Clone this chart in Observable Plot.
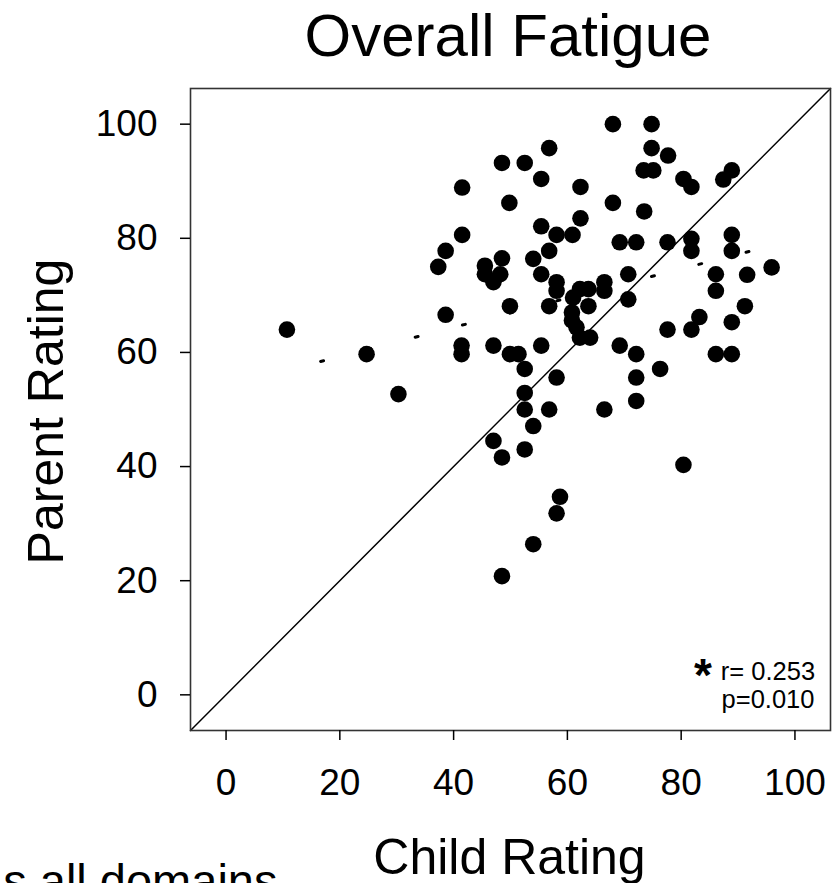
<!DOCTYPE html>
<html>
<head>
<meta charset="utf-8">
<script src="https://cdn.jsdelivr.net/npm/d3@7"></script>
<script src="https://cdn.jsdelivr.net/npm/@observablehq/plot@0.6"></script>
<style>
  body { margin: 0; background: #fff; }
  #chart svg { display: block; }
</style>
</head>
<body>
<div id="chart"></div>
<script>
// Child rating (x) and parent rating (y) for each participant
const childRating = [
  10.7, 24.7, 30.3, 37.3, 38.6, 38.6, 41.5, 41.5, 41.4, 41.4,
  45.5, 45.5, 47.0, 48.2, 48.5, 47.0, 47.0, 48.5, 48.5, 48.5,
  49.8, 49.9, 49.9, 51.4, 52.5, 52.5, 52.5, 52.5, 52.5, 54.0,
  54.0, 54.0, 55.4, 55.4, 55.4, 55.4, 56.8, 56.8, 56.8, 56.8,
  58.1, 58.1, 58.1, 58.1, 58.7, 58.1, 60.9, 60.8, 60.8, 61.6,
  61.0, 62.2, 63.7, 62.3, 62.3, 62.2, 64.0, 63.7, 66.5, 66.5,
  66.5, 68.0, 68.0, 69.2, 69.2, 70.7, 70.7, 72.1, 72.1, 72.1,
  72.1, 73.5, 73.4, 75.1, 74.8, 74.8, 77.7, 77.6, 77.6, 76.3,
  80.4, 81.8, 80.4, 81.8, 81.8, 81.8, 83.2, 86.1, 86.1, 86.1,
  87.4, 88.9, 88.9, 88.9, 88.9, 88.9, 91.2, 91.6, 95.9
];
const parentRating = [
  64.0, 59.7, 52.7, 75.0, 77.8, 66.6, 88.9, 80.6, 61.2, 59.7,
  75.2, 73.7, 72.3, 73.7, 76.5, 61.2, 44.5, 41.6, 20.8, 93.2,
  86.2, 68.1, 59.7, 59.7, 93.2, 57.1, 52.9, 50.0, 43.0, 76.4,
  47.1, 26.4, 90.4, 82.1, 73.7, 61.2, 95.8, 77.8, 68.1, 50.0,
  80.6, 72.3, 70.8, 55.6, 34.7, 31.8, 80.6, 67.0, 65.6, 64.4,
  69.6, 71.1, 71.1, 89.0, 83.5, 62.6, 62.6, 68.1, 72.3, 70.8,
  50.0, 100.0, 86.2, 79.3, 61.2, 73.7, 69.3, 79.3, 59.7, 55.6,
  51.5, 84.7, 91.9, 91.9, 100.0, 95.8, 94.5, 79.3, 64.0, 57.1,
  90.4, 89.0, 40.3, 79.9, 77.8, 64.0, 66.2, 73.7, 70.8, 59.7,
  90.3, 91.9, 80.6, 77.8, 65.3, 59.7, 68.1, 73.6, 74.9
];

const axisTicks = [0, 20, 40, 60, 80, 100];
const axisLimits = [-6.25, 106.25];

// Fitted regression line end points (child, parent)
const regressionX = [10.7, 95.9];
const regressionY = [56.9, 78.7];

const titleText = "Overall Fatigue";
const xLabel = "Child Rating";
const yLabel = "Parent Rating";
const statLines = ["r= 0.253", "p=0.010"];
const significanceMark = "*";
const cutCaption = "s all domains";

const points = childRating.map((c, i) => ({child: c, parent: parentRating[i]}));
const identity = axisLimits.map(v => ({v}));
const regression = regressionX.map((x, i) => ({x, y: regressionY[i]}));

const font = "'Liberation Sans', Arial, Helvetica, sans-serif";

const chart = Plot.plot({
  width: 836,
  height: 883,
  marginLeft: 190,
  marginRight: 6,
  marginTop: 88,
  marginBottom: 153,
  style: {fontFamily: font, background: "#fff", color: "#000"},
  x: {domain: axisLimits},
  y: {domain: axisLimits},
  marks: [
    Plot.line(identity, {x: "v", y: "v", stroke: "#000", strokeWidth: 1.5}),
    Plot.line(regression, {x: "x", y: "y", stroke: "#000", strokeWidth: 3,
      strokeDasharray: "3,45.8", strokeDashoffset: 14}),
    Plot.dot(points, {x: "child", y: "parent", r: 8.3, fill: "#000", stroke: "none"}),
    Plot.frame({stroke: "#333", strokeWidth: 1.6}),
    Plot.axisX({ticks: axisTicks, tickSize: 10, tickPadding: 28, fontSize: 37, label: null, strokeWidth: 1.5}),
    Plot.axisY({ticks: axisTicks, tickSize: 10, tickPadding: 23, fontSize: 37, label: null, strokeWidth: 1.5}),
    Plot.text([titleText], {text: d => d, frameAnchor: "top", textAnchor: "middle",
      lineAnchor: "bottom", dx: -2.5, dy: -33, fontSize: 60}),
    Plot.text([xLabel], {text: d => d, frameAnchor: "bottom", textAnchor: "middle",
      lineAnchor: "bottom", dx: -1, dy: 143, fontSize: 50}),
    Plot.text([yLabel], {text: d => d, frameAnchor: "left", textAnchor: "middle",
      lineAnchor: "bottom", rotate: -90, dx: -128, dy: 2, fontSize: 50}),
    Plot.text([statLines.join("\n")], {text: d => d, frameAnchor: "bottom-right",
      textAnchor: "middle", lineAnchor: "bottom", lineHeight: 1.07,
      dx: -62.5, dy: -23, fontSize: 25.5}),
    Plot.text([significanceMark], {text: d => d, frameAnchor: "bottom-right",
      textAnchor: "middle", lineAnchor: "bottom", dx: -127.5, dy: -40,
      fontSize: 46, fontWeight: "bold"}),
    Plot.text([cutCaption], {text: d => d, frameAnchor: "bottom-left",
      textAnchor: "end", lineAnchor: "bottom", dx: 87, dy: 166, fontSize: 47})
  ]
});
document.getElementById("chart").appendChild(chart);
</script>
</body>
</html>
